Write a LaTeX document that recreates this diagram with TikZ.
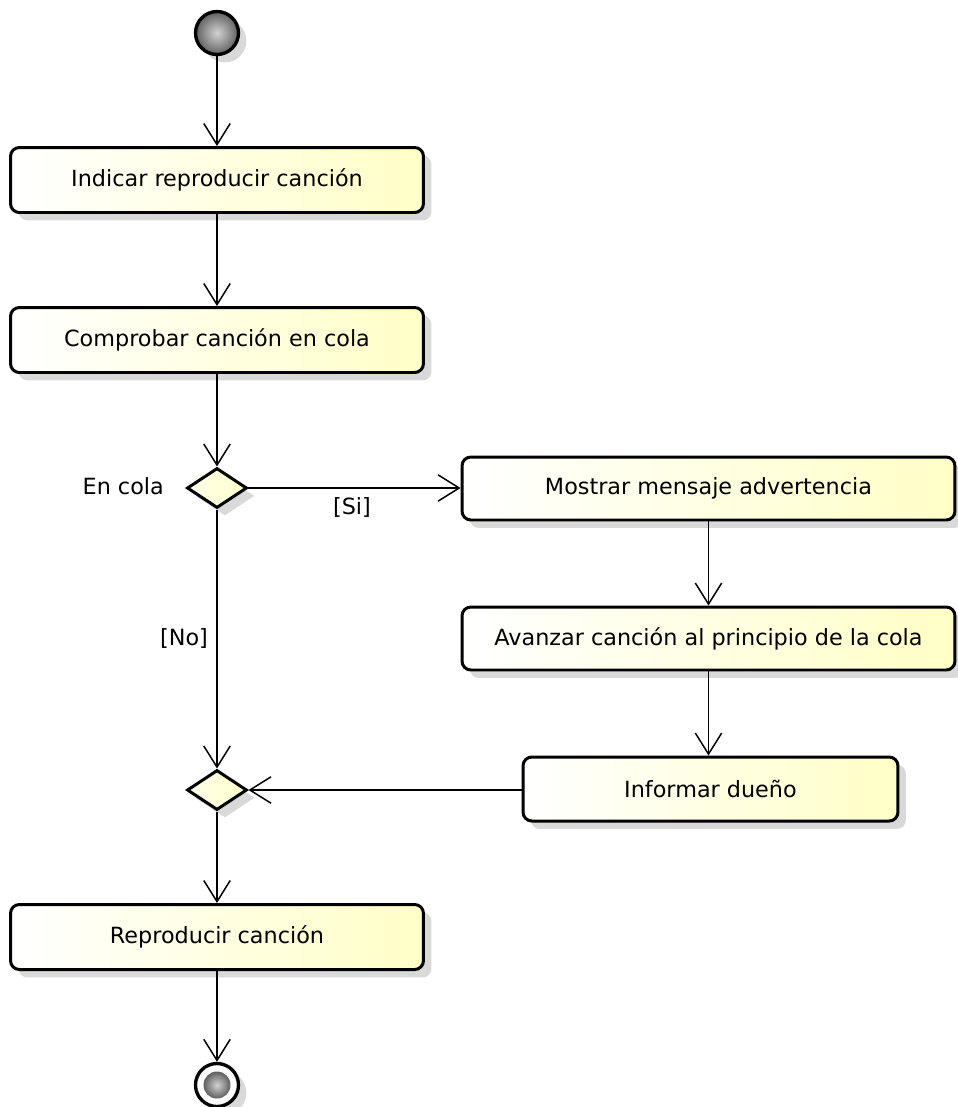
\documentclass[tikz,border=0pt]{standalone}
\usepackage{fontspec}
\setmainfont{DejaVu Sans}
\usetikzlibrary{arrows.meta,shapes.geometric,shadows}

\begin{document}
\begin{tikzpicture}[x=0.02cm,y=-0.02cm,>={Straight Barb[length=12pt,width=15pt]},
        font=\fontsize{12.7}{15}\selectfont,
        flow/.style={->,line width=0.85pt},
        shade/.style={drop shadow={shadow xshift=4.5pt,shadow yshift=-4.5pt,fill=black!15,opacity=1}},
        activity/.style={draw,line width=1.7pt,rounded corners=5pt,left color=white,right color=yellow!22,
            shade,minimum width=8.26cm,minimum height=1.3cm,inner sep=0pt},
        decision/.style={diamond,draw,line width=1.7pt,left color=yellow!8,right color=yellow!20,shade,
            aspect=1.5,minimum width=1.2cm,minimum height=0.8cm,inner sep=0pt}]
        \useasboundingbox (0,0) rectangle (958,1107);
        % start and end
        \node[circle,draw,line width=1.9pt,inner color=gray!35,outer color=gray!75!black,shade,minimum size=0.86cm] (start) at (217,33) {};
        \node[circle,draw,line width=1.9pt,fill=white,shade,minimum size=0.86cm] (end) at (217,1085) {};
        \node[circle,inner color=gray!35,outer color=gray!75!black,minimum size=0.54cm] (endin) at (end) {};
        % actions
        \node[activity] (indicar) at (217,180) {Indicar reproducir canción};
        \node[activity] (comprobar) at (217,340) {Comprobar canción en cola};
        \node[activity,minimum width=9.86cm,minimum height=1.26cm] (mostrar) at (708.5,488.5) {Mostrar mensaje advertencia};
        \node[activity,minimum width=9.86cm,minimum height=1.26cm] (avanzar) at (708.5,638.5) {Avanzar canción al principio de la cola};
        \node[activity,minimum width=7.5cm,minimum height=1.28cm] (informar) at (710.5,789) {Informar dueño};
        \node[activity] (reproducir) at (217,937) {Reproducir canción};
        % decision and merge
        \node[decision] (encola) at (217,488) {};
        \node[decision] (merge) at (217,790) {};
        \node[anchor=east] (lblcola) at (170,486) {En cola};
        \node (lblsi) at (352,507) {[Si]};
        \node (lblno) at (184,638) {[No]};
        % flows
        \draw[flow] (start) -- (indicar);
        \draw[flow] (indicar) -- (comprobar);
        \draw[flow] (comprobar) -- (encola);
        \draw[flow] (encola.east) -- (mostrar.west |- encola.east);
        \draw[flow] (mostrar) -- (avanzar);
        \draw[flow] (avanzar.south) -- (avanzar.south |- informar.north);
        \draw[flow] (informar.west |- merge.east) -- (merge.east);
        \draw[flow] (encola) -- (merge);
        \draw[flow] (merge) -- (reproducir);
        \draw[flow] (reproducir) -- (end);
\end{tikzpicture}
\end{document}
